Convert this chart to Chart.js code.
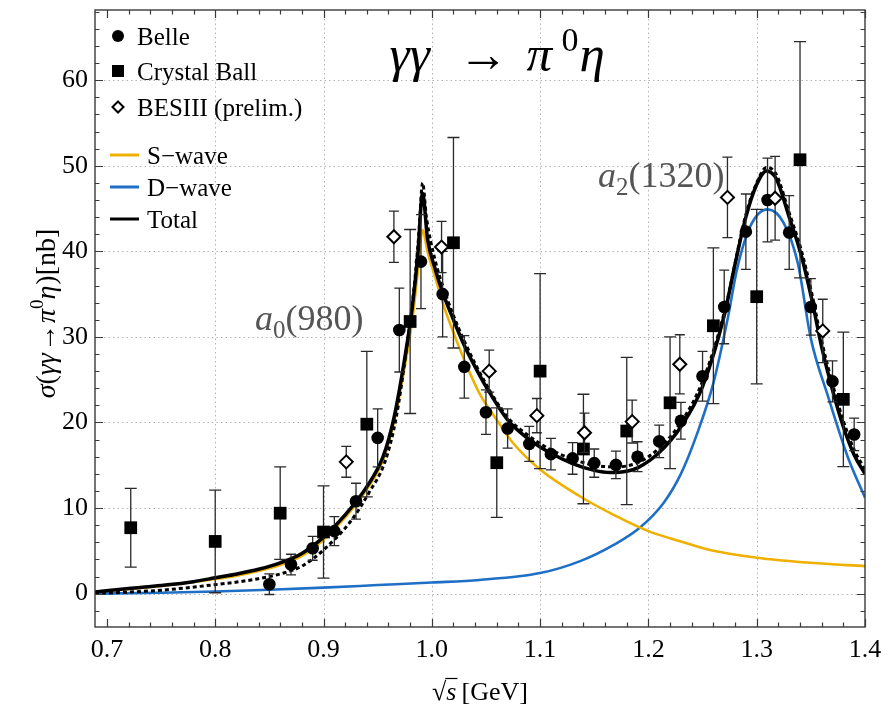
<!DOCTYPE html>
<html>
<head>
<meta charset="utf-8">
<script src="https://cdn.jsdelivr.net/npm/chart.js@4.4.0/dist/chart.umd.min.js"></script>
<style>
html, body { margin: 0; padding: 0; background: #fff; }
#wrap { width: 890px; height: 718px; }
</style>
</head>
<body>
<div id="wrap"><canvas id="xsec"></canvas></div>
<script>
// Axis ticks
const xTicks = [0.7, 0.8, 0.9, 1.0, 1.1, 1.2, 1.3, 1.4];
const yTicks = [0, 10, 20, 30, 40, 50, 60];
const xGrid = [0.8, 0.9, 1.0, 1.1, 1.2, 1.3];

// Belle data
const belleX = [0.85, 0.87, 0.89, 0.91, 0.93, 0.95, 0.97, 0.99, 1.01, 1.03, 1.05, 1.07, 1.09, 1.11,
                1.13, 1.15, 1.17, 1.19, 1.21, 1.23, 1.25, 1.27, 1.29, 1.31, 1.33, 1.35, 1.37, 1.39];
const belleY = [1.1, 3.4, 5.3, 7.3, 10.8, 18.2, 30.8, 38.8, 35.0, 26.5, 21.2, 19.3, 17.5, 16.3,
                15.8, 15.25, 15.05, 16.0, 17.8, 20.2, 25.4, 33.5, 42.3, 46.0, 42.2, 33.5, 24.8, 18.6];
const belleErr = [1.2, 1.2, 1.4, 1.7, 2.1, 3.4, 4.9, 5.5, 5.0, 3.65, 2.6, 2.3, 2.05, 1.85,
                  1.85, 1.65, 1.6, 1.75, 1.9, 2.15, 2.9, 4.3, 4.4, 4.9, 4.3, 3.3, 2.4, 1.9];

// Crystal Ball data
const cbX = [0.722, 0.80, 0.86, 0.90, 0.94, 0.98, 1.02, 1.06, 1.10, 1.14, 1.18, 1.22, 1.26, 1.30, 1.34, 1.38];
const cbY = [7.7, 6.1, 9.4, 7.2, 19.8, 31.8, 41.0, 15.3, 26.0, 16.9, 19.0, 22.3, 31.3, 34.7, 50.7, 22.7];
const cbErr = [4.6, 6.0, 5.4, 5.4, 8.5, 10.75, 12.3, 6.4, 11.4, 6.4, 8.6, 7.7, 9.1, 10.2, 13.8, 7.85];

// BESIII preliminary data
const besX = [0.921, 0.965, 1.009, 1.053, 1.097, 1.141, 1.185, 1.229, 1.273, 1.317, 1.361];
const besY = [15.4, 41.7, 40.5, 26.0, 20.8, 18.8, 20.1, 26.8, 46.3, 46.2, 30.7];
const besErr = [1.8, 3.0, 3.0, 2.45, 2.0, 2.3, 2.5, 3.45, 4.7, 4.9, 3.7];

// Fit curves
const totalX = [0.689, 0.72, 0.75, 0.78, 0.80, 0.82, 0.84, 0.86, 0.88, 0.90, 0.92, 0.94, 0.955, 0.965, 0.975,
                0.982, 0.987, 0.9915, 0.996, 1.003, 1.01, 1.02, 1.03, 1.04, 1.05, 1.07, 1.09, 1.11, 1.13,
                1.15, 1.165, 1.18, 1.19, 1.21, 1.23, 1.25, 1.27, 1.28, 1.29, 1.30, 1.309, 1.318, 1.33,
                1.341, 1.351, 1.36, 1.37, 1.38, 1.39, 1.40];
const totalY = [0.2, 0.6, 0.95, 1.4, 1.85, 2.3, 2.85, 3.6, 4.7, 6.6, 9.2, 12.5, 16.0, 20.5, 27.5,
                33.5, 39.5, 46.8, 41.5, 38.0, 35.2, 32.0, 29.0, 26.5, 24.2, 20.3, 18.0, 16.4, 15.2,
                14.4, 14.15, 14.3, 14.7, 16.5, 19.5, 24.2, 32.5, 38.5, 44.0, 47.8, 49.4, 48.5, 44.0,
                39.6, 34.3, 28.8, 23.8, 19.5, 16.2, 14.0];

const altX = [0.689, 0.75, 0.80, 0.82, 0.84, 0.86, 0.88, 0.90, 0.926, 0.942, 0.957, 0.967, 0.976, 0.983,
              0.988, 0.9915, 0.995, 1.003, 1.01, 1.02, 1.03, 1.05, 1.07, 1.09, 1.11, 1.13, 1.15, 1.17,
              1.19, 1.21, 1.23, 1.25, 1.27, 1.29, 1.30, 1.309, 1.318, 1.33, 1.341, 1.351, 1.36, 1.37,
              1.38, 1.39, 1.40];
const altY = [0.0, 0.4, 1.05, 1.35, 1.75, 2.3, 3.2, 5.1, 8.6, 11.8, 15.5, 20.5, 28.0, 35.0,
              42.0, 48.0, 44.0, 39.0, 36.0, 32.5, 29.5, 24.5, 20.6, 18.4, 16.8, 15.7, 15.0, 14.8,
              15.3, 17.0, 20.0, 24.8, 32.8, 44.3, 48.0, 49.8, 49.0, 44.5, 40.2, 35.0, 29.5, 24.5,
              20.2, 16.8, 14.5];

const sWaveX = [0.689, 0.75, 0.80, 0.82, 0.84, 0.86, 0.88, 0.90, 0.92, 0.94, 0.955, 0.965, 0.975, 0.982, 0.987,
                0.9915, 0.996, 1.003, 1.01, 1.02, 1.03, 1.044, 1.06, 1.075, 1.10, 1.137, 1.168, 1.20,
                1.23, 1.26, 1.30, 1.35, 1.40];
const sWaveY = [0.2, 0.9, 1.7, 2.1, 2.65, 3.35, 4.4, 6.3, 8.9, 12.2, 15.6, 20.0, 26.5, 32.0, 37.5,
                42.5, 40.0, 37.0, 34.0, 30.5, 27.3, 23.4, 20.3, 17.6, 14.5, 11.35, 9.2, 7.3,
                6.1, 5.0, 4.2, 3.6, 3.2];

const dWaveX = [0.689, 0.75, 0.80, 0.85, 0.90, 0.95, 1.00, 1.044, 1.10, 1.137, 1.168, 1.192, 1.214,
                1.23, 1.245, 1.26, 1.273, 1.282, 1.294, 1.31, 1.325, 1.338, 1.35, 1.366, 1.384, 1.40];
const dWaveY = [0.0, 0.1, 0.25, 0.45, 0.7, 1.0, 1.3, 1.6, 2.4, 3.8, 5.7, 7.7, 10.6,
                14.0, 18.7, 24.6, 32.0, 38.0, 42.9, 44.9, 43.3, 38.6, 29.8, 23.0, 16.0, 11.2];

const SERIF = '"Liberation Serif", "DejaVu Serif", serif';
const ORANGE = '#F0B000';
const BLUE = '#1E6FC5';

const pts = (xs, ys) => xs.map((x, i) => ({ x: x, y: ys[i] }));

function curve(label, xs, ys, color, width, order, dash) {
  return {
    label: label,
    data: pts(xs, ys),
    showLine: true,
    borderColor: color,
    borderWidth: width,
    borderDash: dash || [],
    pointRadius: 0,
    cubicInterpolationMode: 'monotone',
    order: order
  };
}

// Text made of differently styled pieces laid out left to right
function drawRuns(ctx, runs, x, y) {
  for (const r of runs) {
    ctx.font = r.font;
    if (r.at !== undefined) x = r.x0 + r.at;
    ctx.fillText(r.t, x, y + (r.dy || 0));
    x += ctx.measureText(r.t).width + (r.gap || 0);
  }
  return x;
}
function runsWidth(ctx, runs) {
  let w = 0;
  for (const r of runs) { ctx.font = r.font; w += ctx.measureText(r.t).width + (r.gap || 0); }
  return w;
}

const errorBars = {
  id: 'errorBars',
  beforeDatasetDraw(chart, args) {
    const ds = chart.data.datasets[args.index];
    if (!ds.errors) return;
    const { ctx, chartArea: a, scales: { x, y } } = chart;
    ctx.save();
    ctx.beginPath();
    ctx.rect(a.left, a.top, a.right - a.left, a.bottom - a.top);
    ctx.clip();
    ctx.strokeStyle = '#2a2a2a';
    ctx.lineWidth = 1.3;
    ds.data.forEach((p, i) => {
      const e = ds.errors[i];
      const px = x.getPixelForValue(p.x);
      const top = y.getPixelForValue(p.y + e);
      const bot = y.getPixelForValue(p.y - e);
      const cw = ds.capHalf;
      ctx.beginPath();
      ctx.moveTo(px, top); ctx.lineTo(px, bot);
      ctx.moveTo(px - cw, top); ctx.lineTo(px + cw, top);
      ctx.moveTo(px - cw, bot); ctx.lineTo(px + cw, bot);
      ctx.stroke();
    });
    ctx.restore();
  }
};

const frame = {
  id: 'frame',
  beforeDatasetsDraw(chart) {
    const { ctx, chartArea: a, scales: { x, y } } = chart;
    ctx.save();
    ctx.strokeStyle = '#b4b4b4';
    ctx.lineWidth = 1;
    ctx.setLineDash([1.5, 3]);
    xGrid.forEach(v => {
      const px = Math.round(x.getPixelForValue(v)) + 0.5;
      ctx.beginPath(); ctx.moveTo(px, a.top); ctx.lineTo(px, a.bottom); ctx.stroke();
    });
    yTicks.forEach(v => {
      const py = Math.round(y.getPixelForValue(v)) + 0.5;
      ctx.beginPath(); ctx.moveTo(a.left, py); ctx.lineTo(a.right, py); ctx.stroke();
    });
    ctx.restore();
  },
  afterDatasetsDraw(chart) {
    const { ctx, chartArea: a, scales: { x, y } } = chart;
    ctx.save();
    ctx.strokeStyle = '#3a3a3a';
    ctx.lineWidth = 1.4;
    ctx.strokeRect(a.left, a.top, a.right - a.left, a.bottom - a.top);
    ctx.lineWidth = 1.2;
    ctx.beginPath();
    // inward ticks on all four sides
    for (let k = 35; k <= 70; k++) {
      const v = k / 50;
      if (v < x.min || v > x.max) continue;
      const major = k % 5 === 0;
      const len = major ? 8 : 4.5;
      const px = Math.round(x.getPixelForValue(v)) + 0.5;
      ctx.moveTo(px, a.bottom); ctx.lineTo(px, a.bottom - len);
      ctx.moveTo(px, a.top); ctx.lineTo(px, a.top + len);
    }
    for (let v = -2; v <= 68; v += 2) {
      if (v < y.min || v > y.max) continue;
      const major = v % 10 === 0;
      const len = major ? 8 : 4.5;
      const py = Math.round(y.getPixelForValue(v)) + 0.5;
      ctx.moveTo(a.left, py); ctx.lineTo(a.left + len, py);
      ctx.moveTo(a.right, py); ctx.lineTo(a.right - len, py);
    }
    ctx.stroke();
    ctx.restore();
  },
  afterDraw(chart) {
    const { ctx, chartArea: a, scales: { x, y } } = chart;
    ctx.save();
    ctx.fillStyle = '#000';
    ctx.textBaseline = 'alphabetic';
    ctx.textAlign = 'left';

    // process title inside the frame
    const it50 = 'italic 51px ' + SERIF;
    const tx = x.getPixelForValue(0.961), ty = y.getPixelForValue(61.1);
    drawRuns(ctx, [
      { t: 'γγ', font: it50, at: 0, x0: tx },
      { t: '→', font: '50px ' + SERIF, at: 69, x0: tx },
      { t: 'π', font: it50, at: 137, x0: tx },
      { t: '0', font: '34px ' + SERIF, at: 172, x0: tx, dy: -20 },
      { t: 'η', font: it50, at: 190, x0: tx }
    ], tx, ty);

    // resonance labels
    ctx.fillStyle = '#555';
    const lab = (name, sub, mass, xv, yv) => {
      drawRuns(ctx, [
        { t: name, font: 'italic 36px ' + SERIF },
        { t: sub, font: '25px ' + SERIF, dy: 8 },
        { t: '(' + mass + ')', font: '36px ' + SERIF }
      ], x.getPixelForValue(xv), y.getPixelForValue(yv));
    };
    lab('a', '0', '980', 0.8367, 30.8);
    lab('a', '2', '1320', 1.1534, 47.5);

    // legend
    ctx.fillStyle = '#000';
    const lf = '25px ' + SERIF;
    const rows = [
      { kind: 'circle', text: 'Belle', dy: 26 },
      { kind: 'rect', text: 'Crystal Ball', dy: 61 },
      { kind: 'diamond', text: 'BESIII (prelim.)', dy: 97 },
      { kind: 'line', color: ORANGE, text: 'S\u2212wave', dy: 145 },
      { kind: 'line', color: BLUE, text: 'D\u2212wave', dy: 177 },
      { kind: 'line', color: '#000', text: 'Total', dy: 209 }
    ];
    rows.forEach(r => {
      const cy = a.top + r.dy;
      const mx = a.left + 23;
      ctx.font = lf;
      if (r.kind === 'line') {
        ctx.strokeStyle = r.color;
        ctx.lineWidth = 3;
        ctx.beginPath(); ctx.moveTo(a.left + 15, cy); ctx.lineTo(a.left + 44, cy); ctx.stroke();
        ctx.fillText(r.text, a.left + 52, cy + 8.5);
        return;
      }
      if (r.kind === 'circle') {
        ctx.beginPath(); ctx.arc(mx, cy, 6, 0, Math.PI * 2); ctx.fill();
      } else if (r.kind === 'rect') {
        ctx.fillRect(mx - 6, cy - 6, 12, 12);
      } else {
        ctx.strokeStyle = '#000';
        ctx.lineWidth = 2;
        ctx.beginPath();
        ctx.moveTo(mx, cy - 5.5); ctx.lineTo(mx + 5.5, cy); ctx.lineTo(mx, cy + 5.5); ctx.lineTo(mx - 5.5, cy);
        ctx.closePath(); ctx.stroke();
      }
      ctx.fillText(r.text, a.left + 42, cy + 8.5);
    });

    // y axis title
    const f28 = '28px ' + SERIF, i28 = 'italic 28px ' + SERIF;
    const yRuns = [
      { t: 'σ', font: i28 },
      { t: '(', font: f28 },
      { t: 'γγ', font: i28, gap: 1 },
      { t: '→', font: f28, gap: 1 },
      { t: 'π', font: i28 },
      { t: '0', font: '19px ' + SERIF, dy: -12 },
      { t: 'η', font: i28, gap: 1 },
      { t: ')[nb]', font: f28 }
    ];
    ctx.save();
    ctx.translate(55, (a.top + a.bottom) / 2 - 5);
    ctx.rotate(-Math.PI / 2);
    drawRuns(ctx, yRuns, -runsWidth(ctx, yRuns) / 2, 0);
    ctx.restore();

    // x axis title with overlined s under the root sign
    const f26 = '26px ' + SERIF, i26 = 'italic 26px ' + SERIF;
    const xRuns = [
      { t: '\u221A', font: f26 },
      { t: 's', font: i26, gap: 5 },
      { t: '[GeV]', font: f26 }
    ];
    const xw = runsWidth(ctx, xRuns);
    const x0 = (a.left + a.right) / 2 - xw / 2, by = 700;
    ctx.font = f26;
    const rootW = ctx.measureText('\u221A').width;
    ctx.font = i26;
    const sW = ctx.measureText('s').width;
    drawRuns(ctx, xRuns, x0, by);
    ctx.strokeStyle = '#000';
    ctx.lineWidth = 1.2;
    ctx.beginPath();
    ctx.moveTo(x0 + rootW - 1, by - 21.5); ctx.lineTo(x0 + rootW + sW + 1, by - 21.5);
    ctx.stroke();
    ctx.restore();
  }
};

new Chart(document.getElementById('xsec'), {
  type: 'scatter',
  data: {
    datasets: [
      {
        label: 'BESIII (prelim.)',
        data: pts(besX, besY),
        errors: besErr,
        capHalf: 5,
        pointStyle: 'rectRot',
        pointRadius: 6.5,
        backgroundColor: '#fff',
        borderColor: '#000',
        borderWidth: 2,
        order: 0
      },
      {
        label: 'Belle',
        data: pts(belleX, belleY),
        errors: belleErr,
        capHalf: 5,
        pointStyle: 'circle',
        pointRadius: 6.3,
        backgroundColor: '#000',
        borderWidth: 0,
        order: 1
      },
      {
        label: 'Crystal Ball',
        data: pts(cbX, cbY),
        errors: cbErr,
        capHalf: 6,
        pointStyle: 'rect',
        pointRadius: 9,
        backgroundColor: '#000',
        borderWidth: 0,
        order: 2
      },
      curve('Total', totalX, totalY, '#000', 3.5, 3),
      curve('Total (alt.)', altX, altY, '#000', 3, 4, [4, 3]),
      curve('S-wave', sWaveX, sWaveY, ORANGE, 2.6, 5),
      curve('D-wave', dWaveX, dWaveY, BLUE, 2.6, 6)
    ]
  },
  options: {
    responsive: true,
    maintainAspectRatio: false,
    animation: false,
    devicePixelRatio: 1,
    layout: { padding: { top: 10, right: 25, left: 0, bottom: 0 } },
    plugins: { legend: { display: false }, tooltip: { enabled: false } },
    scales: {
      x: {
        type: 'linear',
        min: 0.689,
        max: 1.4,
        grid: { display: false, drawTicks: false },
        border: { display: false },
        afterBuildTicks: s => { s.ticks = xTicks.map(v => ({ value: v })); },
        afterFit: s => { s.height = 91; s.paddingLeft = 0; s.paddingRight = 0; },
        ticks: {
          color: '#000',
          padding: 8,
          maxRotation: 0,
          autoSkip: false,
          font: { family: SERIF, size: 26 },
          callback: v => v.toFixed(1)
        }
      },
      y: {
        type: 'linear',
        min: -3.9,
        max: 68.2,
        grid: { display: false, drawTicks: false },
        border: { display: false },
        afterBuildTicks: s => { s.ticks = yTicks.map(v => ({ value: v })); },
        afterFit: s => { s.width = 95; s.paddingTop = 0; s.paddingBottom = 0; },
        ticks: {
          color: '#000',
          padding: 7,
          autoSkip: false,
          font: { family: SERIF, size: 26 },
          callback: v => String(v)
        }
      }
    }
  },
  plugins: [errorBars, frame]
});
</script>
</body>
</html>
